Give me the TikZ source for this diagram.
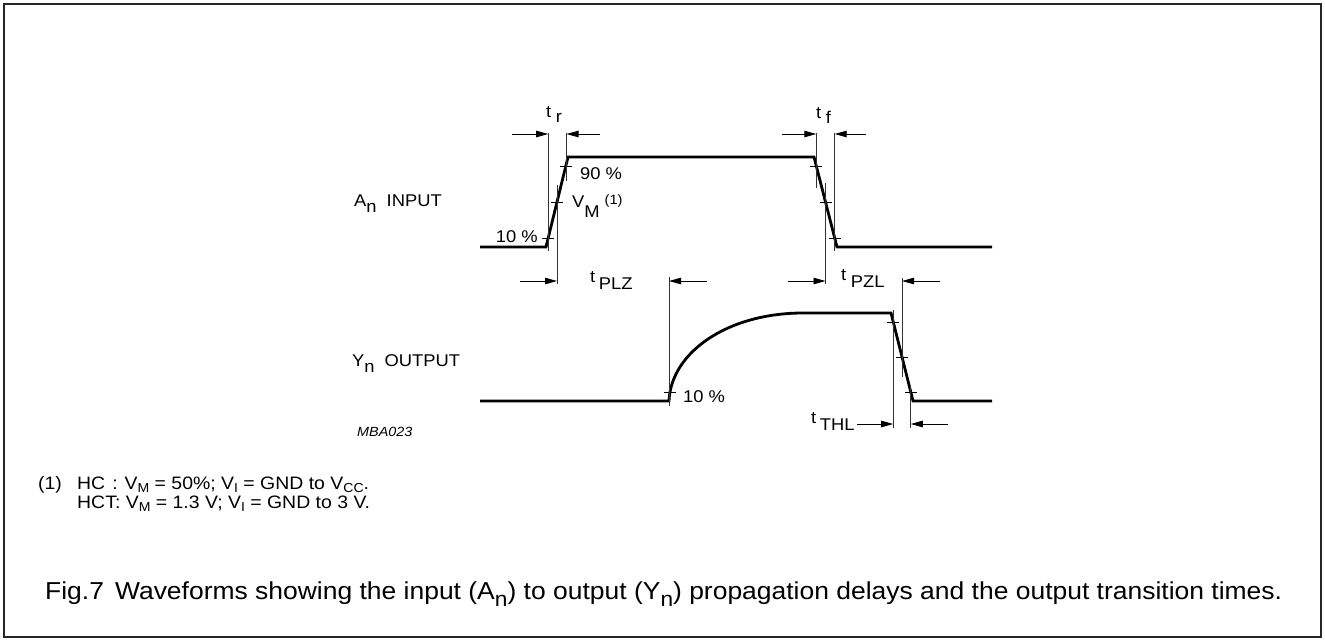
\documentclass[tikz,border=0pt]{standalone}
\usepackage{fontspec}
\setmainfont{Liberation Sans}[FakeStretch=1.08]
\usetikzlibrary{arrows.meta}
\newcommand\lsub[1]{\raisebox{-0.45em}{#1}}
\newcommand\fsub[1]{\raisebox{-0.22em}{\fontsize{13}{14}\selectfont #1}}
\begin{document}
\begin{tikzpicture}[x=1pt,y=-1pt,
  wave/.style={line width=2.8pt, line join=miter},
  guide/.style={line width=0.9pt, black!80},
  tickmark/.style={line width=0.9pt},
  arr/.style={line width=0.9pt, -{Triangle[length=12pt,width=6.5pt]}},
  lbl/.style={font=\fontsize{17}{19}\selectfont, inner sep=0pt},
  foot/.style={font=\fontsize{18}{20}\selectfont, inner sep=0pt},
  captxt/.style={font=\fontsize{24.5}{27}\selectfont, inner sep=0pt}]
\useasboundingbox (0,0) rectangle (1325,641);
\draw[line width=2pt, black!85] (4,4) rectangle (1321,637);

% ---------- input waveform ----------
\coordinate (i0) at (480,247);
\coordinate (i1) at (546,247);
\coordinate (i2) at (568,157);
\coordinate (i3) at (814,157);
\coordinate (i4) at (837,247);
\coordinate (i5) at (992,247);
\draw[wave] (i0) -- (i1) -- (i2) -- (i3) -- (i4) -- (i5);

% rise points
\coordinate (r10) at (548.2,238);
\coordinate (r50) at (557,202);
\coordinate (r90) at (565.8,166);
% fall points
\coordinate (f90) at (816.3,166);
\coordinate (f50) at (825.5,202);
\coordinate (f10) at (834.7,238);

\foreach \p in {r10,r50,r90,f90,f50,f10}
  \draw[tickmark] ([xshift=-6pt]\p) -- ([xshift=6pt]\p);

% guides input
\draw[guide] (548.2,133) -- (548.2,251);
\draw[guide] (557,185) -- (557,284);
\draw[guide] (566.5,133) -- (566.5,181);
\draw[guide] (816.3,133) -- (816.3,188);
\draw[guide] (825.5,183) -- (825.5,284);
\draw[guide] (834.7,133) -- (834.7,251);

% t_r arrows
\coordinate (tra) at (512,134); \coordinate (trb) at (548.2,134);
\coordinate (trc) at (600,134); \coordinate (trd) at (566.5,134);
\draw[arr] (tra) -- (trb);
\draw[arr] (trc) -- (trd);
% t_f arrows
\coordinate (tfa) at (782,134); \coordinate (tfb) at (816.3,134);
\coordinate (tfc) at (866,134); \coordinate (tfd) at (834.7,134);
\draw[arr] (tfa) -- (tfb);
\draw[arr] (tfc) -- (tfd);

\node[lbl, anchor=base west] (tr) at (546,117) {t\kern4.5pt\raisebox{-0.35em}{r}};
\node[lbl, anchor=base west] (tf) at (816,118) {t\kern4.5pt\raisebox{-0.35em}{f}};

\node[lbl, anchor=base west] (ain) at (354,206) {A\raisebox{-0.38em}{n}\hspace{10pt}INPUT};
\node[lbl, anchor=base east] (p10) at (538,242) {10 \%};
\node[lbl, anchor=base west] (p90) at (580,179) {90 \%};
\node[lbl, anchor=base west] (vm) at (572,207) {V\raisebox{-0.6em}{M}\kern5pt\raisebox{0.15em}{\fontsize{13.5}{14}\selectfont (1)}};

% ---------- output waveform ----------
\coordinate (o0) at (480,401);
\coordinate (o1) at (669,401);
\coordinate (o2) at (803,313);
\coordinate (o3) at (891,313);
\coordinate (o4) at (913,401);
\coordinate (o5) at (992,401);
\draw[wave] (o0) -- (o1) .. controls (671,352) and (728,313) .. (o2) -- (o3) -- (o4) -- (o5);

\coordinate (u10) at (669.5,392);
\coordinate (g90) at (893.2,322);
\coordinate (g50) at (902,357);
\coordinate (g10) at (910.8,392);
\foreach \p in {u10,g90,g50,g10}
  \draw[tickmark] ([xshift=-6pt]\p) -- ([xshift=6pt]\p);

\draw[guide] (669,277) -- (669,406);
\draw[guide] (893.2,310) -- (893.2,428);
\draw[guide] (902,278) -- (902,377);
\draw[guide] (910.8,385) -- (910.8,428);

% t_PLZ
\coordinate (pla) at (520,281); \coordinate (plb) at (557,281);
\coordinate (plc) at (707,281); \coordinate (pld) at (669,281);
\draw[arr] (pla) -- (plb);
\draw[arr] (plc) -- (pld);
\node[lbl, anchor=base west] (tplz) at (590,282) {t\kern3.5pt\lsub{PLZ}};

% t_PZL
\coordinate (pza) at (788,281); \coordinate (pzb) at (825.5,281);
\coordinate (pzc) at (940,281); \coordinate (pzd) at (902,281);
\draw[arr] (pza) -- (pzb);
\draw[arr] (pzc) -- (pzd);
\node[lbl, anchor=base west] (tpzl) at (841,280) {t\kern4.5pt\lsub{PZL}};

% t_THL
\node[lbl, anchor=base west] (tthl) at (811,423) {t\kern3.5pt\lsub{THL}};
\coordinate (tha) at (857,424); \coordinate (thb) at (893.2,424);
\coordinate (thc) at (948,424); \coordinate (thd) at (910.8,424);
\draw[arr] (tha) -- (thb);
\draw[arr] (thc) -- (thd);

\node[lbl, anchor=base west] (q10) at (683,402) {10 \%};
\node[lbl, anchor=base west] (yout) at (352,366) {Y\raisebox{-0.38em}{n}\hspace{10pt}OUTPUT};
\node[font=\fontsize{13.3}{15}\selectfont\itshape, inner sep=0pt, anchor=base west] (mba) at (357,436) {MBA023};

% ---------- footnote ----------
\node[foot, anchor=base west] (fn0) at (38,489) {(1)};
\node[foot, anchor=base west] (fn1) at (77,489) {HC\hspace{7pt}:\hspace{7pt}V\fsub{M} = 50\%; V\fsub{I} = GND to V\fsub{CC}.};
\node[foot, anchor=base west] (fn2) at (77,508) {HCT: V\fsub{M} = 1.3 V; V\fsub{I} = GND to 3 V.};

% ---------- caption ----------
\node[captxt, anchor=base west] (capt) at (45,599) {Fig.7\hspace{0.45em}Waveforms showing the input (A\raisebox{-0.3em}{\fontsize{21}{22}\selectfont n}) to output (Y\raisebox{-0.3em}{\fontsize{21}{22}\selectfont n}) propagation delays and the output transition times.};
\end{tikzpicture}
\end{document}
